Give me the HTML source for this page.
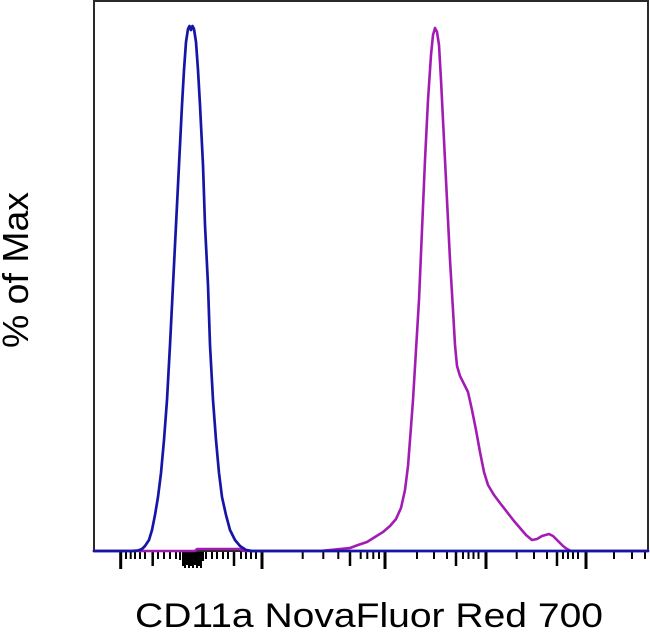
<!DOCTYPE html>
<html>
<head>
<meta charset="utf-8">
<style>
  html, body { margin: 0; padding: 0; background: #ffffff; }
  svg { display: block; }
  text { font-family: "Liberation Sans", Arial, sans-serif; fill: #000; }
</style>
</head>
<body>
<svg width="650" height="634" viewBox="0 0 650 634" xmlns="http://www.w3.org/2000/svg">
  <rect x="0" y="0" width="650" height="634" fill="#ffffff"/>
  <rect x="94" y="1" width="554" height="550" fill="none" stroke="#2a2a2a" stroke-width="2"/>

  <path stroke="#000" stroke-width="3" fill="none"
    d="M120.7 552v17M262 552v17M385 552v17M486 552v17M586 552v17"/>
  <path stroke="#000" stroke-width="2.5" fill="none"
    d="M152.7 552v14M234 552v14M350 552v14M456 552v14M557 552v14"/>
  <path stroke="#000" stroke-width="2" fill="none"
    d="M126 552v7M130.7 552v7M135 552v7M140 552v7M145 552v7M158 552v7M164 552v7M170 552v7M176 552v7
       M206 552v7M212 552v7M217 552v7M223 552v7M228 552v7M241 552v7M246 552v7M251 552v7M256 552v7
       M302.7 552v7M323.3 552v7M338.3 552v7M360.7 552v7M367.3 552v7M373.3 552v7M379 552v7
       M417 552v7M434 552v7M447 552v7M463 552v7M468.5 552v7M473.5 552v7M478.5 552v7
       M516.7 552v7M534 552v7M547 552v7M563 552v7M568 552v7M573 552v7M578 552v7
       M614 552v7M632 552v7M645 552v7"/>
  <path stroke="#000" stroke-width="2" fill="none"
    d="M180 552v8M183 552v14M185 552v16M187 552v13M189 552v16M191 552v14M193 552v16M195 552v13M197 552v16M199 552v14M201 552v16M203 552v9"/>

  <polyline fill="none" stroke="#a21cb4" stroke-width="2.6" stroke-linejoin="round" stroke-linecap="round"
    points="94,551 195,551 197,549 240,549 244,551 320,551 330,550 340,549 350,548 358,545 367,542 375,537 383,532 390,526 396,519 401,508 405,490 408,466 410,440 413,400 416,350 419,300 422,230 425,160 428,100 431,55 433,35 435,28 437,32 439,45 441,80 444,140 447,200 450,260 453,310 455,345 457,366 460,376 464,384 468,392 472,410 476,430 480,452 484,472 488,485 494,495 500,503 507,512 514,521 520,528 526,535 532,540 537,539 542,536 549,534 553,536 558,541 563,546 567,549 571,551 648,551"/>

  <polyline fill="none" stroke="#1616a6" stroke-width="2.7" stroke-linejoin="round" stroke-linecap="round"
    points="94,551 132,551 138,550.5 142,549 145,546 149,540 152,530 155,515 158,497 161,473 164,440 167,400 170,345 173,285 176,225 179,165 182,105 184,70 186,42 188,29 189.5,26 191,30 192.5,26 194,29 196,42 198,70 200,105 203,165 205,225 208,285 210,345 213,400 216,440 219,473 222,497 226,515 230,530 235,540 240,546 246,550 252,551 648,551"/>

  <text x="135" y="627" font-size="34" textLength="468" lengthAdjust="spacingAndGlyphs">CD11a NovaFluor Red 700</text>
  <text transform="translate(28,348) rotate(-90)" font-size="36" textLength="156" lengthAdjust="spacingAndGlyphs">% of Max</text>
</svg>
</body>
</html>
